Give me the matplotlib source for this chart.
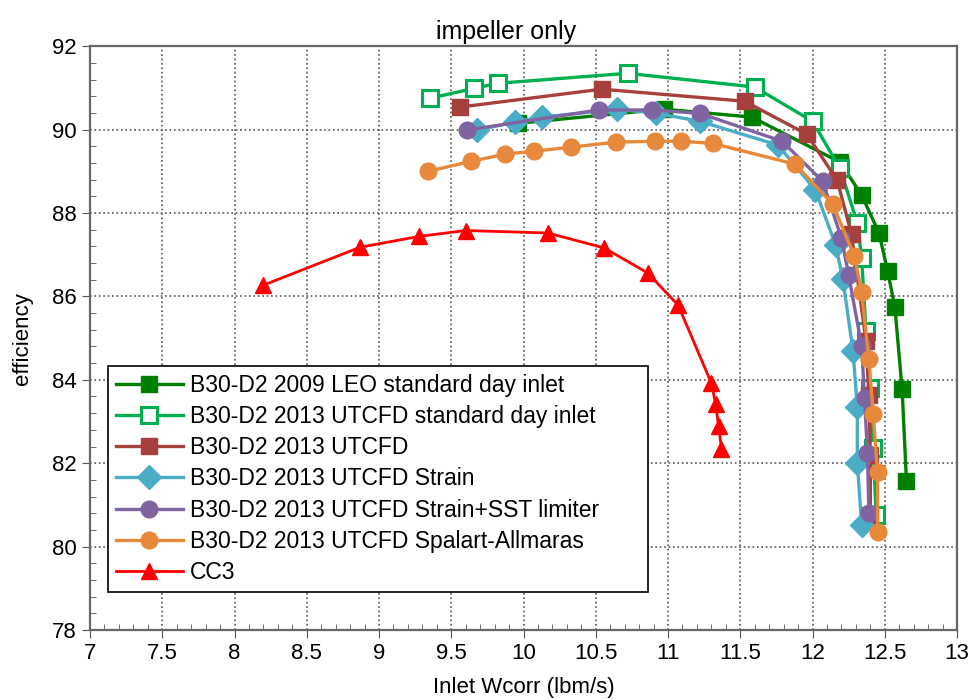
import matplotlib
matplotlib.use("Agg")
import matplotlib.pyplot as plt
from matplotlib.ticker import MultipleLocator

plt.rcParams["font.family"] = ["Liberation Sans", "DejaVu Sans"]

# B30-D2 2009 LEO standard day inlet
leo_x = [9.96, 10.97, 11.58, 12.19, 12.34, 12.46, 12.52, 12.57, 12.62, 12.65]
leo_y = [90.15, 90.49, 90.30, 89.22, 88.43, 87.52, 86.60, 85.74, 83.77, 81.57]

# B30-D2 2013 UTCFD standard day inlet
std_x = [9.35, 9.66, 9.82, 10.72, 11.60, 12.00, 12.19, 12.31, 12.34, 12.37, 12.40, 12.42, 12.44]
std_y = [90.75, 90.99, 91.11, 91.35, 91.02, 90.20, 89.07, 87.76, 86.92, 85.17, 83.80, 82.36, 80.75]

# B30-D2 2013 UTCFD
cfd_x = [9.56, 10.54, 11.53, 11.96, 12.17, 12.27, 12.37, 12.39, 12.40, 12.40]
cfd_y = [90.54, 90.97, 90.68, 89.89, 88.79, 87.49, 84.93, 83.63, 82.19, 80.75]

# B30-D2 2013 UTCFD Strain
strain_x = [9.68, 9.94, 10.13, 10.65, 10.92, 11.22, 11.76, 12.02, 12.16, 12.21, 12.28, 12.31, 12.31, 12.34]
strain_y = [89.99, 90.18, 90.30, 90.49, 90.39, 90.20, 89.63, 88.55, 87.23, 86.41, 84.69, 83.34, 82.00, 80.51]

# B30-D2 2013 UTCFD Strain+SST limiter
sst_x = [9.61, 10.52, 10.89, 11.22, 11.79, 12.07, 12.20, 12.25, 12.34, 12.36, 12.38, 12.39]
sst_y = [89.99, 90.47, 90.47, 90.39, 89.72, 88.76, 87.40, 86.51, 84.81, 83.56, 82.24, 80.80]

# B30-D2 2013 UTCFD Spalart-Allmaras
sa_x = [9.34, 9.64, 9.87, 10.07, 10.33, 10.64, 10.91, 11.09, 11.31, 11.88, 12.14, 12.29,
        12.34, 12.39, 12.42, 12.45, 12.45]
sa_y = [89.00, 89.24, 89.41, 89.48, 89.58, 89.70, 89.72, 89.72, 89.67, 89.17, 88.21, 86.96,
        86.10, 84.49, 83.17, 81.78, 80.35]

# CC3
cc3_x = [8.20, 8.87, 9.28, 9.60, 10.17, 10.56, 10.86, 11.07, 11.30, 11.33, 11.35, 11.37]
cc3_y = [86.27, 87.18, 87.44, 87.58, 87.52, 87.16, 86.56, 85.79, 83.92, 83.41, 82.89, 82.34]

x_ticks = [7, 7.5, 8, 8.5, 9, 9.5, 10, 10.5, 11, 11.5, 12, 12.5, 13]
x_labels = ["7", "7.5", "8", "8.5", "9", "9.5", "10", "10.5", "11", "11.5", "12", "12.5", "13"]

fig = plt.figure(figsize=(9.72, 7), dpi=100)
ax = fig.add_axes([0.0926, 0.1, 0.892, 0.834])

lw = 2.4
ax.plot(leo_x, leo_y, color="#008000", marker="s", ms=12, lw=lw,
        label="B30-D2 2009 LEO standard day inlet")
ax.plot(std_x, std_y, color="#00b050", marker="s", ms=12, mfc="white", mew=2.2, lw=lw,
        label="B30-D2 2013 UTCFD standard day inlet")
ax.plot(cfd_x, cfd_y, color="#a5403d", marker="s", ms=12, lw=lw,
        label="B30-D2 2013 UTCFD")
ax.plot(strain_x, strain_y, color="#4bacc6", marker="D", ms=12, lw=lw,
        label="B30-D2 2013 UTCFD Strain")
ax.plot(sst_x, sst_y, color="#8064a2", marker="o", ms=12, lw=lw,
        label="B30-D2 2013 UTCFD Strain+SST limiter")
ax.plot(sa_x, sa_y, color="#e8883a", marker="o", ms=12, lw=lw,
        label="B30-D2 2013 UTCFD Spalart-Allmaras")
ax.plot(cc3_x, cc3_y, color="#ff0000", marker="^", ms=12, lw=2,
        label="CC3")

ax.set_xlim(7, 13)
ax.set_ylim(78, 92)
ax.set_xticks(x_ticks, x_labels)
ax.xaxis.set_minor_locator(MultipleLocator(0.1))
ax.yaxis.set_major_locator(MultipleLocator(2))
ax.yaxis.set_minor_locator(MultipleLocator(0.4))
ax.tick_params(which="major", direction="out", length=6, labelsize=16, color="#555555")
ax.tick_params(which="minor", direction="in", length=4, color="#555555")
ax.grid(True, which="major", linestyle=":", color="#555555", linewidth=1.2)

for s in ax.spines.values():
    s.set_color("#666666")
    s.set_linewidth(1.6)

ax.set_title("impeller only", fontsize=18, x=0.48, pad=5)
ax.set_xlabel("Inlet Wcorr (lbm/s)", fontsize=16, labelpad=9)
ax.set_ylabel("efficiency", fontsize=16, labelpad=14)

leg = ax.legend(loc="lower left", bbox_to_anchor=(0.021, 0.065, 0.623, 0.38), mode="expand",
                fontsize=16.5, frameon=True, fancybox=False, framealpha=1,
                handlelength=2.9, borderaxespad=0, borderpad=0.35,
                labelspacing=0.36, handletextpad=0.3)
leg.get_frame().set_edgecolor("black")
leg.get_frame().set_linewidth(1.2)

fig.savefig("out.png", dpi=100)
